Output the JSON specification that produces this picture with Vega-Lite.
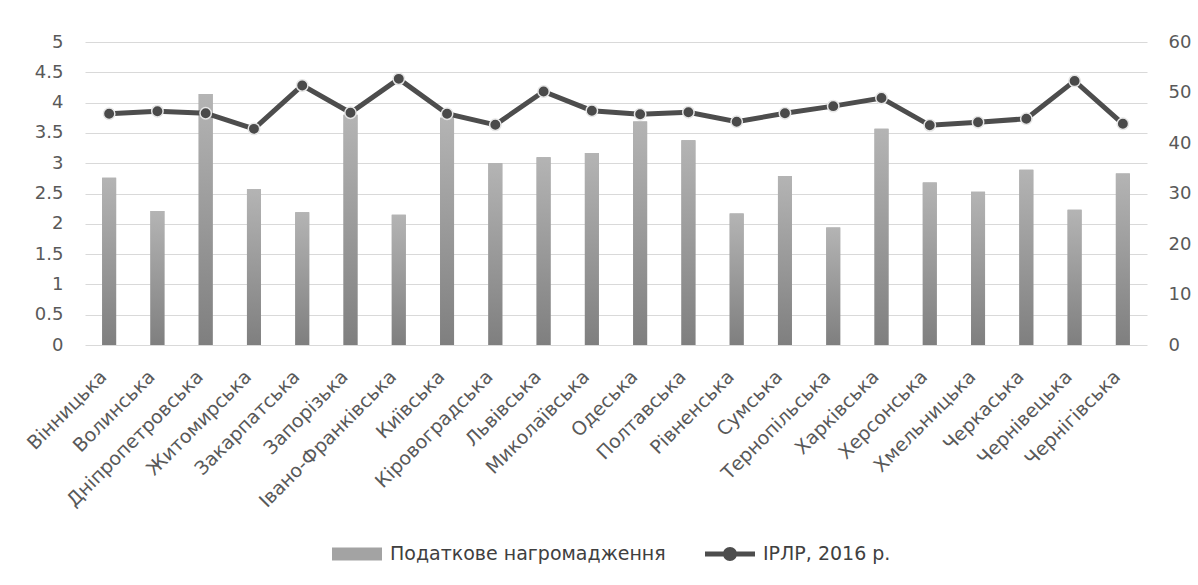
{
  "$schema": "https://vega.github.io/schema/vega-lite/v6.json",
  "width": 1062,
  "height": 303,
  "autosize": {"type": "none"},
  "padding": {"left": 85, "top": 42, "right": 51, "bottom": 240},
  "background": "white",
  "config": {
    "view": {"stroke": null},
    "font": "DejaVu Sans",
    "axis": {"labelColor": "#595959", "labelFont": "DejaVu Sans", "title": null, "domain": false, "ticks": false, "labelOverlap": false}
  },
  "data": {
    "values": [
      {"region": "Вінницька", "tax": 2.76, "irlr": 45.8},
      {"region": "Волинська", "tax": 2.21, "irlr": 46.3},
      {"region": "Дніпропетровська", "tax": 4.14, "irlr": 45.9},
      {"region": "Житомирська", "tax": 2.57, "irlr": 42.8},
      {"region": "Закарпатська", "tax": 2.19, "irlr": 51.4},
      {"region": "Запорізька", "tax": 3.8, "irlr": 46.0},
      {"region": "Івано-Франківська", "tax": 2.15, "irlr": 52.7},
      {"region": "Київська", "tax": 3.75, "irlr": 45.8},
      {"region": "Кіровоградська", "tax": 3.0, "irlr": 43.6},
      {"region": "Львівська", "tax": 3.1, "irlr": 50.2},
      {"region": "Миколаївська", "tax": 3.17, "irlr": 46.4},
      {"region": "Одеська", "tax": 3.69, "irlr": 45.7},
      {"region": "Полтавська", "tax": 3.38, "irlr": 46.1},
      {"region": "Рівненська", "tax": 2.17, "irlr": 44.2},
      {"region": "Сумська", "tax": 2.79, "irlr": 45.9},
      {"region": "Тернопільська", "tax": 1.94, "irlr": 47.3},
      {"region": "Харківська", "tax": 3.57, "irlr": 48.9},
      {"region": "Херсонська", "tax": 2.68, "irlr": 43.5},
      {"region": "Хмельницька", "tax": 2.53, "irlr": 44.1},
      {"region": "Черкаська", "tax": 2.89, "irlr": 44.8},
      {"region": "Чернівецька", "tax": 2.23, "irlr": 52.3},
      {"region": "Чернігівська", "tax": 2.83, "irlr": 43.8}
    ]
  },
  "encoding": {
    "x": {
      "field": "region",
      "type": "nominal",
      "sort": null,
      "scale": {"paddingInner": 0.71, "paddingOuter": 0.355},
      "axis": {"labelAngle": -45, "labelFontSize": 19, "labelPadding": 22, "labelOffset": -12, "labelLimit": 400, "grid": false}
    }
  },
  "layer": [
    {
      "encoding": {
        "y": {
          "field": "tax",
          "type": "quantitative",
          "scale": {"domain": [0, 5], "nice": false},
          "axis": {
            "orient": "left",
            "values": [0, 0.5, 1, 1.5, 2, 2.5, 3, 3.5, 4, 4.5, 5],
            "format": "~g",
            "labelFontSize": 18,
            "labelPadding": 22,
            "labelOverlap": false,
            "grid": true,
            "gridColor": "#d9d9d9",
            "gridWidth": 1
          }
        }
      },
      "layer": [
        {
          "mark": {"type": "bar"},
          "encoding": {
            "color": {
              "datum": "Податкове нагромадження",
              "scale": {"domain": ["Податкове нагромадження", "ІРЛР, 2016 р."], "range": ["#a3a3a3", "#4d4d4d"]},
              "legend": {
                "title": null,
                "orient": "none",
                "legendX": 247,
                "legendY": 487,
                "direction": "horizontal",
                "labelFontSize": 19,
                "labelColor": "#404040",
                "labelFont": "DejaVu Sans",
                "labelLimit": 600,
                "symbolSize": 2500,
                "labelOffset": 8,
                "columnPadding": 39,
                "encode": {
                  "symbols": {
                    "update": {
                      "shape": {"signal": "datum.value === 'ІРЛР, 2016 р.' ? 'M-1,-0.1H1V0.1H-1Z M-0.28,0A0.28,0.28 0 1,1 0.28,0A0.28,0.28 0 1,1 -0.28,0Z' : 'M-1,-0.26H1V0.26H-1Z'"},
                      "fill": {"signal": "datum.value === 'ІРЛР, 2016 р.' ? '#4d4d4d' : '#a0a0a0'"},
                      "stroke": {"value": "transparent"},
                      "strokeWidth": {"value": 0},
                      "opacity": {"value": 1},
                      "fillOpacity": {"value": 1}
                    }
                  }
                }
              }
            }
          }
        },
        {
          "mark": {
            "type": "bar",
            "fill": {
              "gradient": "linear",
              "x1": 0, "y1": 0, "x2": 0, "y2": 1,
              "stops": [{"offset": 0, "color": "#b4b4b4"}, {"offset": 1, "color": "#7f7f7f"}]
            }
          },
          "encoding": {}
        }
      ]
    },
    {
      "encoding": {
        "y": {
          "field": "irlr",
          "type": "quantitative",
          "scale": {"domain": [0, 60], "nice": false},
          "axis": {
            "orient": "right",
            "values": [0, 10, 20, 30, 40, 50, 60],
            "format": "d",
            "labelFontSize": 18,
            "labelPadding": 21,
            "grid": false
          }
        }
      },
      "layer": [
        {
          "mark": {"type": "line", "strokeWidth": 5},
          "encoding": {
            "color": {"datum": "ІРЛР, 2016 р."}
          }
        },
        {
          "mark": {"type": "point", "filled": true, "size": 130, "fill": "#4a4a4a", "stroke": "#e6e6e6", "strokeWidth": 1.5, "opacity": 1},
          "encoding": {}
        }
      ]
    }
  ],
  "resolve": {"scale": {"y": "independent"}}
}
